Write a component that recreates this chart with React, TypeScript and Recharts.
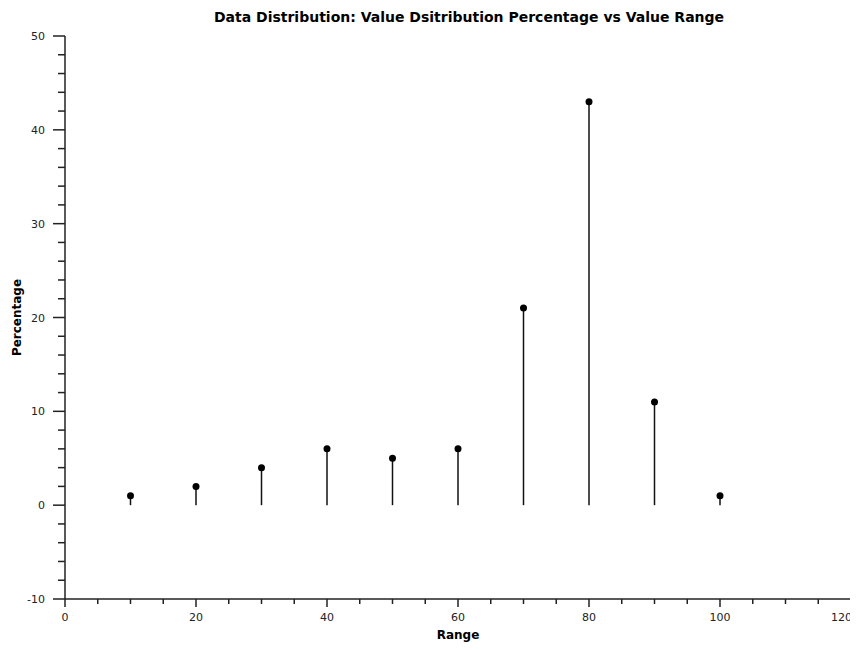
import { ScatterChart, Scatter, XAxis, YAxis, ErrorBar } from "recharts";

const ranges = [10, 20, 30, 40, 50, 60, 70, 80, 90, 100];
const percentages = [1, 2, 4, 6, 5, 6, 21, 43, 11, 1];

const xTicks = [0, 5, 10, 15, 20, 25, 30, 35, 40, 45, 50, 55, 60, 65, 70, 75, 80, 85, 90, 95, 100, 105, 110, 115, 120];
const xLabelTicks = [0, 20, 40, 60, 80, 100, 120];
const yTicks = [-10, -8, -6, -4, -2, 0, 2, 4, 6, 8, 10, 12, 14, 16, 18, 20, 22, 24, 26, 28, 30, 32, 34, 36, 38, 40, 42, 44, 46, 48, 50];
const yLabelTicks = [-10, 0, 10, 20, 30, 40, 50];

const FONT = "'DejaVu Sans', Verdana, sans-serif";
const AXIS = "#222";

const data = ranges.map((r, i) => ({
  range: r,
  pct: percentages[i],
  stem: [percentages[i], 0],
}));

function XTick(props: any) {
  const { x, y, payload } = props;
  const major = xLabelTicks.includes(payload.value);
  const last = payload.value === xLabelTicks[xLabelTicks.length - 1];
  return (
    <g>
      <line x1={x} x2={x} y1={y} y2={y + (major ? 8 : 5)} stroke={AXIS} strokeWidth={1.5} />
      {major && (
        <text
          x={last ? x + 1 : x}
          y={y + 22}
          textAnchor={last ? "end" : "middle"}
          fontSize={11}
          fontFamily={FONT}
          fill="#222"
        >
          {payload.value}
        </text>
      )}
    </g>
  );
}

function YTick(props: any) {
  const { x, y, payload } = props;
  const major = yLabelTicks.includes(payload.value);
  return (
    <g>
      <line x1={x - (major ? 12 : 7)} x2={x} y1={y} y2={y} stroke={AXIS} strokeWidth={1.5} />
      {major && (
        <text x={x - 20} y={y + 4} textAnchor="end" fontSize={11} fontFamily={FONT} fill="#222">
          {payload.value}
        </text>
      )}
    </g>
  );
}

function Dot(props: any) {
  return <circle cx={props.cx} cy={props.cy} r={3.5} fill="#000" />;
}

export default function App() {
  return (
    <div style={{ position: "relative", width: 850, height: 634, overflow: "hidden", fontFamily: FONT }}>
      <div
        style={{
          position: "absolute",
          top: 1,
          left: 68,
          width: 786,
          textAlign: "center",
          fontSize: 14,
          fontWeight: "bold",
          color: "#000",
        }}
      >
        Data Distribution: Value Dsitribution Percentage vs Value Range
      </div>
      <ScatterChart width={850} height={634} margin={{ top: 28, right: 7, left: 0, bottom: 0 }}>
        <XAxis
          type="number"
          dataKey="range"
          domain={[0, 120]}
          ticks={xTicks}
          interval={0}
          tickSize={0}
          tickMargin={0}
          tick={<XTick />}
          height={43}
          stroke={AXIS}
          strokeWidth={1.5}
          label={{ value: "Range", position: "insideBottom", offset: 3, fontSize: 12, fontWeight: "bold", fill: "#000", fontFamily: FONT }}
        />
        <YAxis
          type="number"
          dataKey="pct"
          domain={[-10, 50]}
          ticks={yTicks}
          interval={0}
          tickSize={0}
          tickMargin={0}
          tick={<YTick />}
          width={57}
          stroke={AXIS}
          strokeWidth={1.5}
          label={{ value: "Percentage", angle: -90, position: "insideLeft", offset: 9, fontSize: 12, fontWeight: "bold", fill: "#000", fontFamily: FONT, style: { textAnchor: "middle" } }}
        />
        <Scatter data={data} dataKey="pct" shape={<Dot />} isAnimationActive={false}>
          <ErrorBar dataKey="stem" direction="y" width={0} stroke="#111" strokeWidth={1.5} isAnimationActive={false} />
        </Scatter>
      </ScatterChart>
    </div>
  );
}
